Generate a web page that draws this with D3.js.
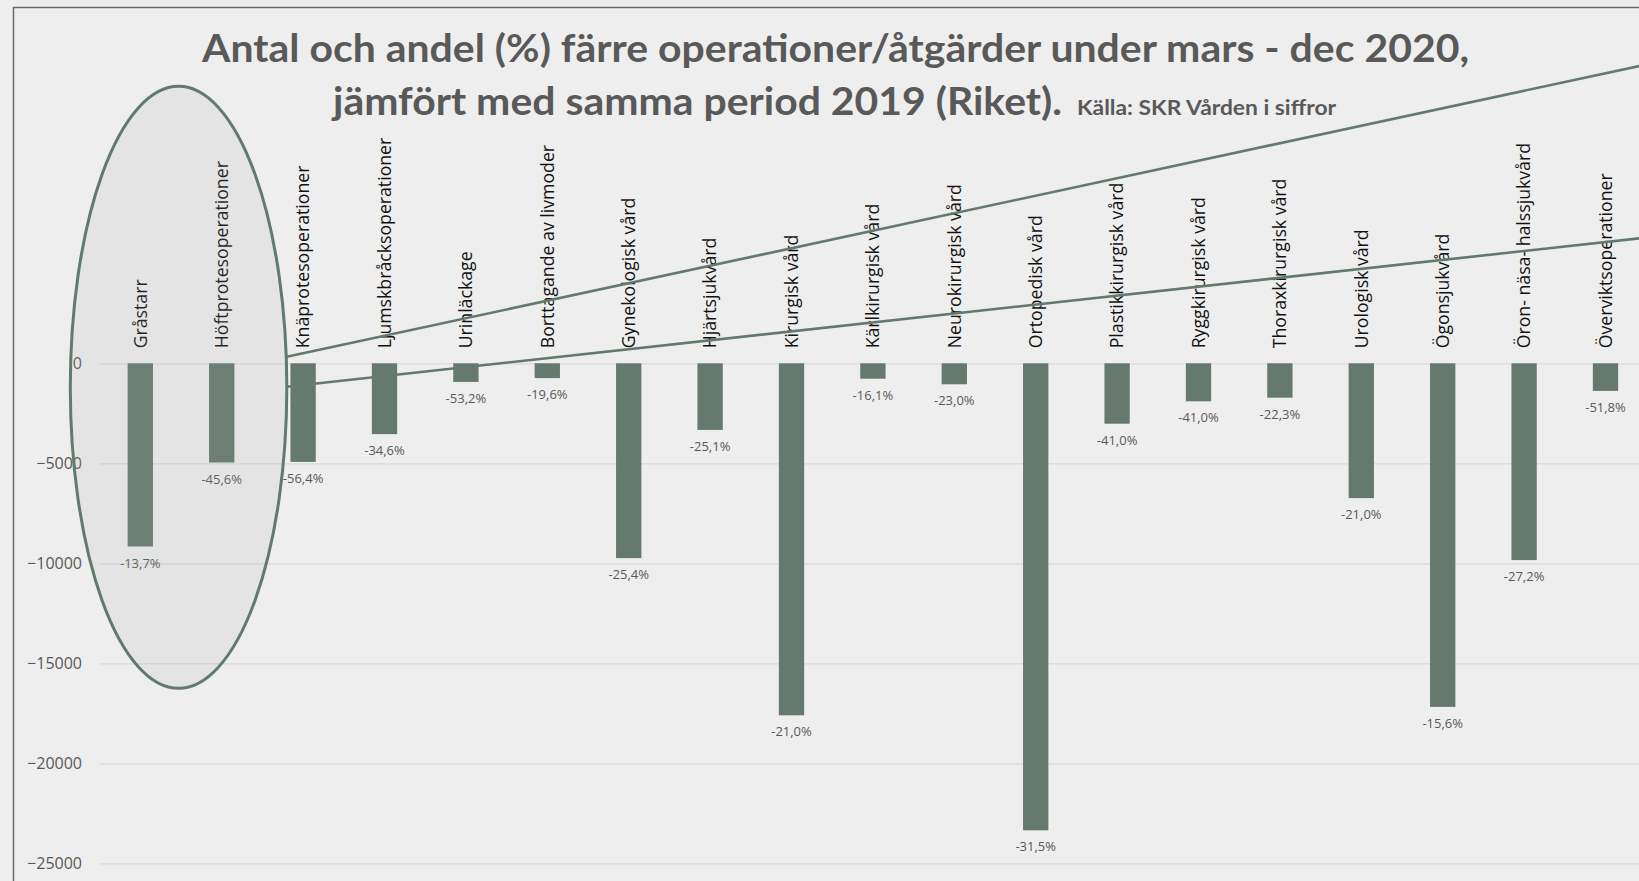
<!DOCTYPE html>
<html>
<head>
<meta charset="utf-8">
<script src="https://cdn.jsdelivr.net/npm/d3@7"></script>
<style>
  html, body { margin: 0; padding: 0; background: #eeeeee; }
  svg { display: block; }
</style>
</head>
<body>
<script>
const width = 1639,
  height = 881;

const categories = [
  'Gråstarr', 'Höftprotesoperationer', 'Knäprotesoperationer', 'Ljumskbråcksoperationer',
  'Urinläckage', 'Borttagande av livmoder', 'Gynekologisk vård', 'Hjärtsjukvård',
  'Kirurgisk vård', 'Kärlkirurgisk vård', 'Neurokirurgisk vård', 'Ortopedisk vård',
  'Plastikkirurgisk vård', 'Ryggkirurgisk vård', 'Thoraxkirurgisk vård', 'Urologisk vård',
  'Ögonsjukvård', 'Öron- näsa- halssjukvård', 'Överviktsoperationer'
];

// change in number of operations, mar-dec 2020 vs 2019
const diffValues = [
  -9160, -4960, -4930, -3540, -930, -740, -9740, -3330, -17600, -770,
  -1050, -23350, -3020, -1900, -1720, -6740, -17180, -9840, -1380
];

const pctLabels = [
  '-13,7%', '-45,6%', '-56,4%', '-34,6%', '-53,2%', '-19,6%', '-25,4%', '-25,1%', '-21,0%', '-16,1%',
  '-23,0%', '-31,5%', '-41,0%', '-41,0%', '-22,3%', '-21,0%', '-15,6%', '-27,2%', '-51,8%'
];

const yTicks = [0, -5000, -10000, -15000, -20000, -25000];

const titleLine1 = 'Antal och andel (%) färre operationer/åtgärder under mars - dec 2020,';
const titleLine2 = 'jämfört med samma period 2019 (Riket).';
const sourceText = 'Källa: SKR Vården i siffror';

// callout ellipse + lines, in (category index, value) units
const highlight = { i0: -0.86, i1: 1.8, vTop: 13850, vBottom: -16250 };
const calloutLines = [
  { i0: 1.8, v0: 330, i1: 18.42, v1: 14870 },
  { i0: 1.8, v0: -1170, i1: 18.42, v1: 6250 }
];

const barColor = '#65796e',
  textGray = '#595959';

const rows = categories.map((c, i) => ({ name: c, value: diffValues[i], label: pctLabels[i] }));

const x = d3.scaleBand()
  .domain(categories)
  .range([99.6, 1646.2])
  .paddingInner(0.689)
  .paddingOuter(0.3445);

const y = d3.scaleLinear()
  .domain([-25000, 0])
  .range([863.3, 363.3]);

// fractional category index -> x
const step = x.step();
const xi = i => x(categories[0]) + x.bandwidth() / 2 + i * step;

const svg = d3.select('body')
  .append('svg')
  .attr('width', width)
  .attr('height', height);

svg.append('rect')
  .attr('width', width)
  .attr('height', height)
  .attr('fill', '#eeeeee');

// frame
svg.append('path')
  .attr('d', `M13.5,${height} L13.5,7.5 L${width},7.5`)
  .attr('fill', 'none')
  .attr('stroke', '#6a6a6a')
  .attr('stroke-width', 1.5);

// y axis: gridlines + labels
const yAxis = d3.axisLeft(y)
  .tickValues(yTicks)
  .tickSize(-(width - 100))
  .tickPadding(18)
  .tickFormat(d3.format('d'));

const gy = svg.append('g')
  .attr('transform', 'translate(100,0)')
  .call(yAxis);
gy.select('.domain').remove();
gy.selectAll('.tick line')
  .attr('stroke', '#d9d9d9')
  .attr('stroke-width', 1.2);
gy.selectAll('.tick text')
  .attr('fill', textGray)
  .attr('font-family', 'Open Sans')
  .attr('font-size', 16)
  .attr('dy', '0.34em');

// category labels, rotated, above the zero line
svg.append('g')
  .selectAll('text')
  .data(rows)
  .join('text')
  .attr('transform', d => `translate(${x(d.name) + x.bandwidth() / 2},${y(0) - 15}) rotate(-90)`)
  .attr('dy', '0.36em')
  .attr('text-anchor', 'start')
  .attr('font-family', 'Open Sans')
  .attr('font-size', 17.7)
  .attr('fill', '#111')
  .text(d => d.name);

// callout lines (under the bars)
svg.append('g')
  .selectAll('line')
  .data(calloutLines)
  .join('line')
  .attr('x1', d => xi(d.i0))
  .attr('y1', d => y(d.v0))
  .attr('x2', d => xi(d.i1))
  .attr('y2', d => y(d.v1))
  .attr('stroke', '#627a6e')
  .attr('stroke-width', 2.6);

// bars
svg.append('g')
  .selectAll('rect')
  .data(rows)
  .join('rect')
  .attr('x', d => x(d.name))
  .attr('y', y(0))
  .attr('width', x.bandwidth())
  .attr('height', d => y(d.value) - y(0))
  .attr('fill', barColor);

// percent labels under each bar
svg.append('g')
  .selectAll('text')
  .data(rows)
  .join('text')
  .attr('x', d => x(d.name) + x.bandwidth() / 2)
  .attr('y', d => y(d.value) + 21)
  .attr('text-anchor', 'middle')
  .attr('font-family', 'Open Sans')
  .attr('font-size', 13)
  .attr('fill', textGray)
  .text(d => d.label);

// highlight ellipse
svg.append('ellipse')
  .attr('cx', (xi(highlight.i0) + xi(highlight.i1)) / 2)
  .attr('cy', (y(highlight.vTop) + y(highlight.vBottom)) / 2)
  .attr('rx', (xi(highlight.i1) - xi(highlight.i0)) / 2)
  .attr('ry', (y(highlight.vBottom) - y(highlight.vTop)) / 2)
  .attr('fill', '#a0a8a4')
  .attr('fill-opacity', 0.14)
  .attr('stroke', '#627a6e')
  .attr('stroke-width', 3);

// title
const title = svg.append('g')
  .attr('font-family', 'Lato')
  .attr('font-weight', 'bold')
  .attr('fill', textGray);

title.append('text')
  .attr('x', 202)
  .attr('y', 62)
  .attr('font-size', 39)
  .attr('textLength', 1267)
  .attr('lengthAdjust', 'spacingAndGlyphs')
  .text(titleLine1);

title.append('text')
  .attr('x', 333)
  .attr('y', 114.5)
  .attr('font-size', 39)
  .attr('textLength', 729)
  .attr('lengthAdjust', 'spacingAndGlyphs')
  .text(titleLine2);

title.append('text')
  .attr('x', 1077)
  .attr('y', 114.5)
  .attr('font-size', 20)
  .attr('textLength', 259)
  .attr('lengthAdjust', 'spacingAndGlyphs')
  .text(sourceText);
</script>
</body>
</html>
